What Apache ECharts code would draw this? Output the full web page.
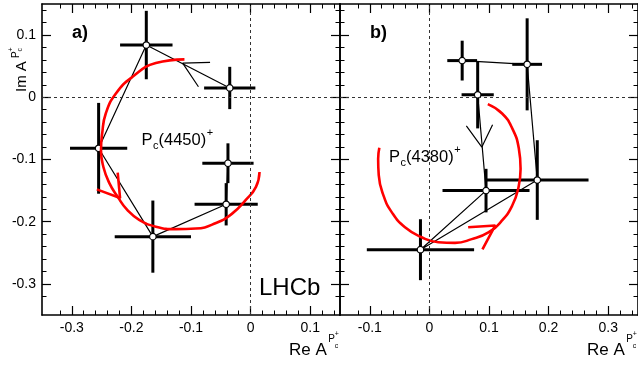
<!DOCTYPE html>
<html><head><meta charset="utf-8">
<script src="https://cdn.jsdelivr.net/npm/echarts@6/dist/echarts.min.js"></script>
<style>html,body{margin:0;padding:0;background:#fff}#c{width:638px;height:366px}</style>
</head><body><div id="c"></div>
<script>
// ---- Panel a) P_c(4450)+ : points in the order they are joined ----
const reA    = [-0.035, -0.175, -0.255, -0.164, -0.041, -0.038];
const imA    = [ 0.015,  0.084, -0.082, -0.224, -0.172, -0.106];
const errReA = [ 0.043,  0.044,  0.048,  0.064,  0.053,  0.043];
const errImA = [ 0.034,  0.055,  0.073,  0.058,  0.034,  0.032];
// ---- Panel b) P_c(4380)+ ----
const reB    = [ 0.081,  0.095, -0.015,  0.181,  0.164,  0.055];
const imB    = [ 0.004, -0.150, -0.245, -0.133,  0.053,  0.059];
const errReB = [ 0.027,  0.073,  0.090,  0.086,  0.025,  0.025];
const errImB = [ 0.054,  0.035,  0.049,  0.064,  0.074,  0.032];
// ---- red arcs ----
const arcReA = [-0.111,-0.159,-0.198,-0.226,-0.243,-0.249,-0.251,-0.247,-0.237,-0.223,-0.207,-0.187,-0.159,-0.125,-0.092,-0.058,-0.031,-0.008,0.009,0.015];
const arcImA = [0.061,0.055,0.033,0.006,-0.026,-0.058,-0.085,-0.112,-0.138,-0.160,-0.181,-0.197,-0.208,-0.212,-0.211,-0.202,-0.187,-0.165,-0.144,-0.120];
const arcReB = [0.098,0.122,0.139,0.150,0.153,0.149,0.139,0.122,0.099,0.071,0.043,0.015,-0.013,-0.041,-0.063,-0.077,-0.085,-0.086,-0.084];
const arcImB = [-0.011,-0.026,-0.050,-0.082,-0.115,-0.147,-0.174,-0.198,-0.217,-0.228,-0.234,-0.233,-0.225,-0.209,-0.185,-0.158,-0.125,-0.099,-0.081];
// ---- arrow heads: wing, tip, wing ----
const redArrReA = [-0.223, -0.219, -0.258];
const redArrImA = [-0.121, -0.162, -0.148];
const blkArrReA = [-0.068, -0.114, -0.0875];
const blkArrImA = [ 0.056,  0.055,  0.017];
const redArrReB = [ 0.065,  0.1105, 0.089];
const redArrImB = [-0.209, -0.206, -0.2445];
const blkArrReB = [ 0.062,  0.088,  0.106];
const blkArrImB = [-0.046, -0.080, -0.044];
// ---- axes ----
const xRangeA = [-0.35, 0.15];
const xRangeB = [-0.15, 0.35];
const yRange  = [-0.35, 0.15];
const xLabelsA = [-0.3, -0.2, -0.1, 0, 0.1];
const xLabelsB = [-0.1, 0, 0.1, 0.2, 0.3];
const yLabels  = [-0.3, -0.2, -0.1, 0, 0.1];

const FONT = '"Liberation Sans", Arial, sans-serif';
const mctx = document.createElement('canvas').getContext('2d');
function tw(s, size) { mctx.font = size + 'px ' + FONT; return mctx.measureText(s).width; }

function minorVals(range, majors) {
  const out = [];
  for (let k = Math.round(range[0] / 0.02) + 1; k * 0.02 < range[1] - 1e-9; k++) {
    const v = Math.round(k * 0.02 * 1000) / 1000;
    if (!majors.some(m => Math.abs(m - v) < 1e-9)) out.push(v);
  }
  return out;
}
function axisPair(gridIndex, position, range, majors, showLabels) {
  const base = {
    type: 'value', gridIndex, position, min: range[0], max: range[1],
    splitLine: { show: false }, minorTick: { show: false },
  };
  const major = Object.assign({}, base, {
    axisLine: { show: true, onZero: false, lineStyle: { color: '#000', width: 1.6 } },
    axisTick: { show: true, inside: true, length: 9, customValues: majors, lineStyle: { color: '#000', width: 1.2 } },
    axisLabel: { show: showLabels, customValues: majors, margin: 6, fontSize: 14, color: '#000', fontFamily: FONT,
                 formatter: v => (Math.abs(v) < 1e-9 ? '0' : String(v)) },
  });
  const minor = Object.assign({}, base, {
    axisLine: { show: false, onZero: false },
    axisTick: { show: true, inside: true, length: 4.5, customValues: minorVals(range, majors), lineStyle: { color: '#000', width: 1 } },
    axisLabel: { show: false },
  });
  return [major, minor];
}
const xAxes = [].concat(
  axisPair(0, 'bottom', xRangeA, xLabelsA, true), axisPair(0, 'top', xRangeA, xLabelsA, false),
  axisPair(1, 'bottom', xRangeB, xLabelsB, true), axisPair(1, 'top', xRangeB, xLabelsB, false));
const yAxes = [].concat(
  axisPair(0, 'left', yRange, yLabels, true), axisPair(0, 'right', yRange, yLabels, false),
  axisPair(1, 'left', yRange, yLabels, false), axisPair(1, 'right', yRange, yLabels, false));

function zip(a, b) { return a.map((v, i) => [v, b[i]]); }

function panelSeries(ax, re, im, eRe, eIm, arcRe, arcIm, rRe, rIm, bRe, bIm) {
  return [
    { type: 'line', xAxisIndex: ax, yAxisIndex: ax, data: [], z: 1, silent: true,
      markLine: { silent: true, symbol: ['none', 'none'], label: { show: false },
        lineStyle: { color: '#333', width: 1, type: [3, 3] }, data: [{ xAxis: 0 }, { yAxis: 0 }] } },
    { type: 'custom', xAxisIndex: ax, yAxisIndex: ax, z: 2,
      data: re.map((x, i) => [x, im[i], eRe[i], eIm[i]]),
      encode: { x: 0, y: 1 },
      renderItem: (params, api) => {
        const x = api.value(0), y = api.value(1), ex = api.value(2), ey = api.value(3);
        const l = api.coord([x - ex, y]), r = api.coord([x + ex, y]);
        const t = api.coord([x, y + ey]), b = api.coord([x, y - ey]);
        return { type: 'group', children: [
          { type: 'line', shape: { x1: l[0], y1: l[1], x2: r[0], y2: r[1] }, style: { stroke: '#000', lineWidth: 3 } },
          { type: 'line', shape: { x1: t[0], y1: t[1], x2: b[0], y2: b[1] }, style: { stroke: '#000', lineWidth: 3 } } ] };
      } },
    { type: 'line', xAxisIndex: ax, yAxisIndex: ax, z: 3, data: zip(re, im),
      symbol: 'circle', symbolSize: 6.5, itemStyle: { color: '#fff', borderColor: '#000', borderWidth: 1.2 },
      lineStyle: { color: '#000', width: 1.2 } },
    { type: 'line', xAxisIndex: ax, yAxisIndex: ax, z: 4, data: zip(arcRe, arcIm), smooth: 0.5,
      showSymbol: false, symbol: 'none', lineStyle: { color: '#ff0000', width: 2.6 } },
    { type: 'line', xAxisIndex: ax, yAxisIndex: ax, z: 4, data: zip(rRe, rIm),
      symbol: 'none', lineStyle: { color: '#ff0000', width: 2.6 } },
    { type: 'line', xAxisIndex: ax, yAxisIndex: ax, z: 4, data: zip(bRe, bIm),
      symbol: 'none', lineStyle: { color: '#000', width: 1.2 } },
  ];
}

function txt(x, y, s, size, bold) {
  return { type: 'text', x, y, z: 100,
    style: { text: s, font: (bold ? 'bold ' : '') + size + 'px ' + FONT, fill: '#000', align: 'left', verticalAlign: 'middle' } };
}
function pcLabel(x, y, mass) {
  const pw = tw('P', 16.5);
  const cw = tw('c', 11);
  const mStr = '(' + mass + ')';
  const mx = x + pw + cw + 0.5;
  const endX = mx + tw(mStr, 16.5);
  return [txt(x, y, 'P', 16.5), txt(x + pw + 0.5, y + 6, 'c', 11), txt(mx, y, mStr, 16.5), txt(endX + 0.5, y - 7, '+', 11)];
}
function reTitle(x, y) {
  const w = tw('Re A', 17);
  return [txt(x, y, 'Re A', 17), txt(x + w + 1.5, y - 11, 'P', 10), txt(x + w + 8, y - 4, 'c', 7), txt(x + w + 8, y - 16, '+', 7)];
}

const graphics = [].concat(
  [txt(72, 33, 'a)', 18, true), txt(370, 33, 'b)', 18, true), txt(259, 288, 'LHCb', 24)],
  pcLabel(141.5, 140, 4450), pcLabel(389, 157, 4380),
  reTitle(289, 350), reTitle(587, 350),
  [{ type: 'group', x: 28, y: 92, rotation: Math.PI / 2, z: 100,
     children: [txt(0, -6, 'Im A', 15), txt(34, -12, 'P', 10), txt(40.5, -8, 'c', 7), txt(40.5, -17, '+', 7)] }]
);

const chart = echarts.init(document.getElementById('c'), null, { renderer: 'canvas' });
chart.setOption({
  animation: false,
  backgroundColor: '#fff',
  grid: [
    { left: 42, top: 4, width: 298, height: 311 },
    { left: 340, top: 4, width: 298, height: 311 },
  ],
  xAxis: xAxes,
  yAxis: yAxes,
  series: [].concat(
    panelSeries(0, reA, imA, errReA, errImA, arcReA, arcImA, redArrReA, redArrImA, blkArrReA, blkArrImA),
    panelSeries(4, reB, imB, errReB, errImB, arcReB, arcImB, redArrReB, redArrImB, blkArrReB, blkArrImB)
  ),
  graphic: graphics,
});
</script></body></html>
